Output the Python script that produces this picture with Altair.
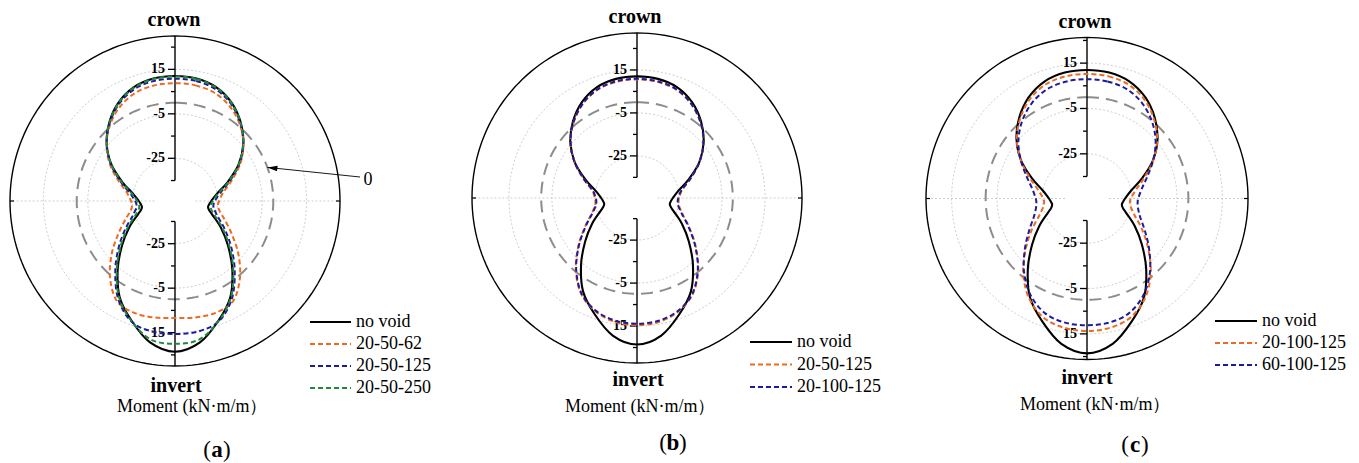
import altair as alt
import pandas as pd

# Angular position around the lining, degrees clockwise from the crown
ANGLES = [0, 10, 20, 30, 40, 50, 60, 70, 80, 90, 95, 100, 105, 110, 120, 130, 140, 150, 160, 170, 180,
          190, 200, 210, 220, 230, 240, 250, 255, 260, 265, 270, 280, 290, 300, 310, 320, 330, 340, 350]

# Bending moment (kN·m/m) at each angle
NO_VOID = [12.0, 11.7, 10.2, 6.8, 1.8, -4.1, -11.1, -18.9, -25.0, -27.9, -28.7, -29.1, -28.3, -26.4, -20.4, -13.1, -4.1, 5.6, 13.0, 20.4, 23.6,
           20.4, 13.0, 5.6, -4.1, -13.1, -20.4, -26.4, -28.3, -29.1, -28.7, -27.9, -25.0, -18.9, -11.1, -4.1, 1.8, 6.8, 10.2, 11.7]

A_20_50_62 = [8.8, 8.6, 7.6, 5.0, 1.0, -4.0, -10.2, -17.0, -22.2, -24.4, -24.8, -24.3, -22.9, -20.6, -14.8, -7.0, 1.2, 7.9, 9.3, 9.0, 8.4,
              9.0, 9.3, 7.9, 1.2, -7.0, -14.8, -20.6, -22.9, -24.3, -24.8, -24.4, -22.2, -17.0, -10.2, -4.0, 1.0, 5.0, 7.6, 8.6]
A_20_50_125 = [10.8, 10.6, 9.3, 6.2, 1.5, -4.1, -10.8, -18.0, -23.6, -26.3, -26.8, -26.6, -25.4, -23.8, -18.2, -11.0, -2.4, 6.8, 13.4, 15.4, 15.6,
               15.4, 13.4, 6.8, -2.4, -11.0, -18.2, -23.8, -25.4, -26.6, -26.8, -26.3, -23.6, -18.0, -10.8, -4.1, 1.5, 6.2, 9.3, 10.6]
A_20_50_250 = [11.8, 11.5, 10.0, 6.6, 1.7, -4.1, -11.0, -18.5, -24.4, -27.2, -27.8, -27.9, -27.0, -25.2, -19.4, -12.2, -3.4, 6.0, 13.2, 19.0, 20.0,
               19.0, 13.2, 6.0, -3.4, -12.2, -19.4, -25.2, -27.0, -27.9, -27.8, -27.2, -24.4, -18.5, -11.0, -4.1, 1.7, 6.6, 10.0, 11.5]

B_20_50_125 = [10.6, 10.3, 9.0, 5.9, 1.3, -4.2, -11.0, -18.0, -23.3, -25.0, -25.2, -24.8, -23.6, -21.9, -16.3, -8.8, -0.3, 7.2, 11.6, 14.0, 14.6,
               14.0, 11.6, 7.2, -0.3, -8.8, -16.3, -21.9, -23.6, -24.8, -25.2, -25.0, -23.3, -18.0, -11.0, -4.2, 1.3, 5.9, 9.0, 10.3]
B_20_100_125 = [10.9, 10.6, 9.2, 6.0, 1.4, -4.2, -11.0, -18.2, -23.6, -25.4, -25.6, -25.2, -24.0, -22.2, -16.6, -9.1, -0.6, 6.9, 11.3, 13.4, 13.9,
                13.4, 11.3, 6.9, -0.6, -9.1, -16.6, -22.2, -24.0, -25.2, -25.6, -25.4, -23.6, -18.2, -11.0, -4.2, 1.4, 6.0, 9.2, 10.6]

C_20_100_125 = [10.2, 10.0, 8.8, 5.8, 1.2, -4.3, -11.0, -17.8, -22.8, -25.4, -25.7, -25.2, -24.0, -22.2, -16.4, -9.3, -1.0, 6.3, 11.2, 13.2, 13.7,
                13.2, 11.2, 6.3, -1.0, -9.3, -16.4, -22.2, -24.0, -25.2, -25.7, -25.4, -22.8, -17.8, -11.0, -4.3, 1.2, 5.8, 8.8, 10.0]
C_60_100_125 = [7.9, 7.7, 6.6, 3.9, -0.2, -5.2, -11.0, -16.4, -20.2, -22.1, -22.3, -21.9, -21.0, -19.6, -15.0, -8.8, -1.6, 4.8, 9.2, 10.9, 11.2,
                10.9, 9.2, 4.8, -1.6, -8.8, -15.0, -19.6, -21.0, -21.9, -22.3, -22.1, -20.2, -16.4, -11.0, -5.2, -0.2, 3.9, 6.6, 7.7]

RADIAL_TICKS = [-35, -25, -15, -5, 5, 15, 25]
RADIAL_LABELS = [-25, -5, 15]
GRID_LEVELS = [-25, -5, 15]
ZERO_LEVEL = 0
AXIS_START = -35

BLACK = "#000000"
ORANGE = "#EE6A21"
NAVY = "#1B1B9B"
GREEN = "#1F8A3A"

FONT = "'Liberation Serif', 'Times New Roman', 'DejaVu Serif', serif"
W, H = 453, 463

PANELS = [
    dict(tag="a", cx=175, cy=201, v_in=-44.2, v_out=30.0, R=165,
         series=[("no void", NO_VOID, BLACK), ("20-50-62", A_20_50_62, ORANGE),
                 ("20-50-125", A_20_50_125, NAVY), ("20-50-250", A_20_50_250, GREEN)],
         crown=(174, 20), invert=(176, 386), moment=(117, 407), label=(217, 450),
         legend=(310, 351, 356, 322, 22), note=True),
    dict(tag="b", cx=184, cy=198, v_in=-44.6, v_out=32.2, R=165,
         series=[("no void", NO_VOID, BLACK), ("20-50-125", B_20_50_125, ORANGE),
                 ("20-100-125", B_20_100_125, NAVY)],
         crown=(182, 17), invert=(185, 380), moment=(112, 407), label=(220, 443),
         legend=(297, 339, 344, 342, 22.5), note=False),
    dict(tag="c", cx=181, cy=198.5, v_in=-44.7, v_out=26.3, R=161,
         series=[("no void", NO_VOID, BLACK), ("20-100-125", C_20_100_125, ORANGE),
                 ("60-100-125", C_60_100_125, NAVY)],
         crown=(179, 22), invert=(181, 378), moment=(114, 405), label=(229, 445),
         legend=(309, 351, 356, 321, 22), note=False),
]

RING_ANGLES = list(range(0, 360, 2))


def ring_frame(levels):
    return pd.DataFrame([{"level": lv, "angle": a, "value": lv} for lv in levels for a in RING_ANGLES])


def text_layer(text, x, y, size, weight="normal", align="center"):
    return alt.Chart(pd.DataFrame({"t": [text]})).mark_text(
        font=FONT, fontSize=size, fontWeight=weight, align=align, baseline="middle", color="black"
    ).encode(x=alt.value(x), y=alt.value(y), text="t:N")


def build_panel(p):
    v_in, v_out = p["v_in"], p["v_out"]
    k = p["R"] / (v_out - v_in)
    xs = alt.Scale(domain=[-p["cx"] / k, (W - p["cx"]) / k], nice=False, zero=False)
    ys = alt.Scale(domain=[-(H - p["cy"]) / k, p["cy"] / k], nice=False, zero=False)

    def X(f):
        return alt.X(f, type="quantitative", scale=xs, axis=None)

    def Y(f):
        return alt.Y(f, type="quantitative", scale=ys, axis=None)

    def polar(ch):
        return ch.transform_calculate(
            px=f"(datum.value - ({v_in})) * sin(datum.angle * PI / 180)",
            py=f"(datum.value - ({v_in})) * cos(datum.angle * PI / 180)",
        )

    layers = []

    # dotted grid circles
    layers.append(polar(alt.Chart(ring_frame(GRID_LEVELS))).mark_line(
        interpolate="linear-closed", color="#C8C8C8", strokeWidth=0.9, strokeDash=[2, 2]
    ).encode(x=X("px"), y=Y("py"), detail="level:N", order="angle:Q"))

    # dotted horizontal guide through the centre
    layers.append(alt.Chart(pd.DataFrame({"side": [1, -1]})).transform_calculate(
        x0=f"datum.side * ({AXIS_START} - ({v_in}))",
        x1=f"datum.side * ({v_out} - ({v_in}))",
        y0="0",
    ).mark_rule(color="#C8C8C8", strokeWidth=0.9, strokeDash=[2, 2]).encode(
        x=X("x0"), x2="x1:Q", y=Y("y0")))

    # zero-moment reference circle
    layers.append(polar(alt.Chart(ring_frame([ZERO_LEVEL]))).mark_line(
        interpolate="linear-closed", color="#8C8C8C", strokeWidth=2, strokeDash=[12, 7]
    ).encode(x=X("px"), y=Y("py"), order="angle:Q"))

    # outer frame circle
    layers.append(polar(alt.Chart(ring_frame([v_out]))).mark_line(
        interpolate="linear-closed", color="black", strokeWidth=1.4
    ).encode(x=X("px"), y=Y("py"), order="angle:Q"))

    # angular ticks at the spring lines
    tick_src = alt.Chart(pd.DataFrame({"side": [1, -1]})).transform_calculate(
        ax=f"datum.side * ({v_out} - ({v_in}))", ay="0")
    layers.append(tick_src.transform_filter("datum.side > 0").mark_rule(
        color="black", strokeWidth=1.2, xOffset=-4).encode(x=X("ax"), x2="ax:Q", y=Y("ay")))
    layers.append(tick_src.transform_filter("datum.side < 0").mark_rule(
        color="black", strokeWidth=1.2, xOffset=4).encode(x=X("ax"), x2="ax:Q", y=Y("ay")))

    # radial axes towards crown and invert
    layers.append(alt.Chart(pd.DataFrame({"side": [1, -1]})).transform_calculate(
        x0="0",
        y0=f"datum.side * ({AXIS_START} - ({v_in}))",
        y1=f"datum.side * ({v_out} - ({v_in}))",
    ).mark_rule(color="black", strokeWidth=1.4).encode(x=X("x0"), y=Y("y0"), y2="y1:Q"))

    tick_rows = [{"side": s, "value": t, "major": t in RADIAL_LABELS, "lab": str(t)}
                 for s in (1, -1) for t in RADIAL_TICKS if t <= v_out]
    ticks = alt.Chart(pd.DataFrame(tick_rows)).transform_calculate(
        tx="0", ty=f"datum.side * (datum.value - ({v_in}))")
    layers.append(ticks.transform_filter("datum.major").mark_rule(
        color="black", strokeWidth=1.3, xOffset=-7).encode(x=X("tx"), x2="tx:Q", y=Y("ty")))
    layers.append(ticks.transform_filter("!datum.major").mark_rule(
        color="black", strokeWidth=1.3, xOffset=-4).encode(x=X("tx"), x2="tx:Q", y=Y("ty")))
    layers.append(ticks.transform_filter("datum.major").mark_text(
        font=FONT, fontSize=14, fontWeight="bold", align="right", baseline="middle", dx=-10, color="black"
    ).encode(x=X("tx"), y=Y("ty"), text="lab:N"))

    # moment curves
    for name, values, color in p["series"]:
        df = pd.DataFrame({"angle": ANGLES, "value": values, "series": name})
        style = dict(color=color, strokeWidth=2.1 if color == BLACK else 2.0, interpolate="cardinal-closed")
        if color != BLACK:
            style["strokeDash"] = [5, 3]
        layers.append(polar(alt.Chart(df)).mark_line(**style).encode(
            x=X("px"), y=Y("py"), order="angle:Q"))

    # legend
    lx0, lx1, tx, ly0, dy = p["legend"]
    for i, (name, _, color) in enumerate(p["series"]):
        yy = ly0 + i * dy
        rule_style = dict(color=color, strokeWidth=2.2 if color == BLACK else 2.0)
        if color != BLACK:
            rule_style["strokeDash"] = [5, 3]
        layers.append(alt.Chart(pd.DataFrame({"series": [name]})).mark_rule(**rule_style).encode(
            x=alt.value(lx0), x2=alt.value(lx1), y=alt.value(yy)))
        layers.append(alt.Chart(pd.DataFrame({"series": [name]})).mark_text(
            font=FONT, fontSize=18, align="left", baseline="middle", color="black"
        ).encode(x=alt.value(tx), y=alt.value(yy), text="series:N"))

    # labels
    layers.append(text_layer("crown", p["crown"][0], p["crown"][1], 20, "bold"))
    layers.append(text_layer("invert", p["invert"][0], p["invert"][1], 20, "bold"))
    layers.append(text_layer("Moment (kN·m/m）", p["moment"][0], p["moment"][1], 18, align="left"))
    lx, ly = p["label"]
    layers.append(text_layer("(", lx - 6, ly, 23, align="right"))
    layers.append(text_layer(p["tag"], lx, ly, 23, "bold"))
    layers.append(text_layer(")", lx + 6, ly, 23, align="left"))

    if p["note"]:
        tip = alt.Chart(pd.DataFrame({"angle": [70], "value": [ZERO_LEVEL]}))
        layers.append(polar(tip).mark_rule(color="black", strokeWidth=0.9).encode(
            x=X("px"), y=Y("py"), x2=alt.value(360), y2=alt.value(177)))
        layers.append(polar(tip).mark_point(
            shape="M -1 0 L 1 -0.55 L 1 0.55 Z", filled=True, color="black", opacity=1,
            size=100, angle=6.6, xOffset=5, yOffset=0.6
        ).encode(x=X("px"), y=Y("py")))
        layers.append(text_layer("0", 368, 180, 18))

    return alt.layer(*layers).properties(width=W, height=H)


chart = alt.HConcatChart(
    hconcat=[build_panel(p) for p in PANELS],
    spacing=0,
    padding=0,
    background="white",
).configure_view(strokeWidth=0)

chart.save("out.html", embed_options={"renderer": "svg", "actions": False})
